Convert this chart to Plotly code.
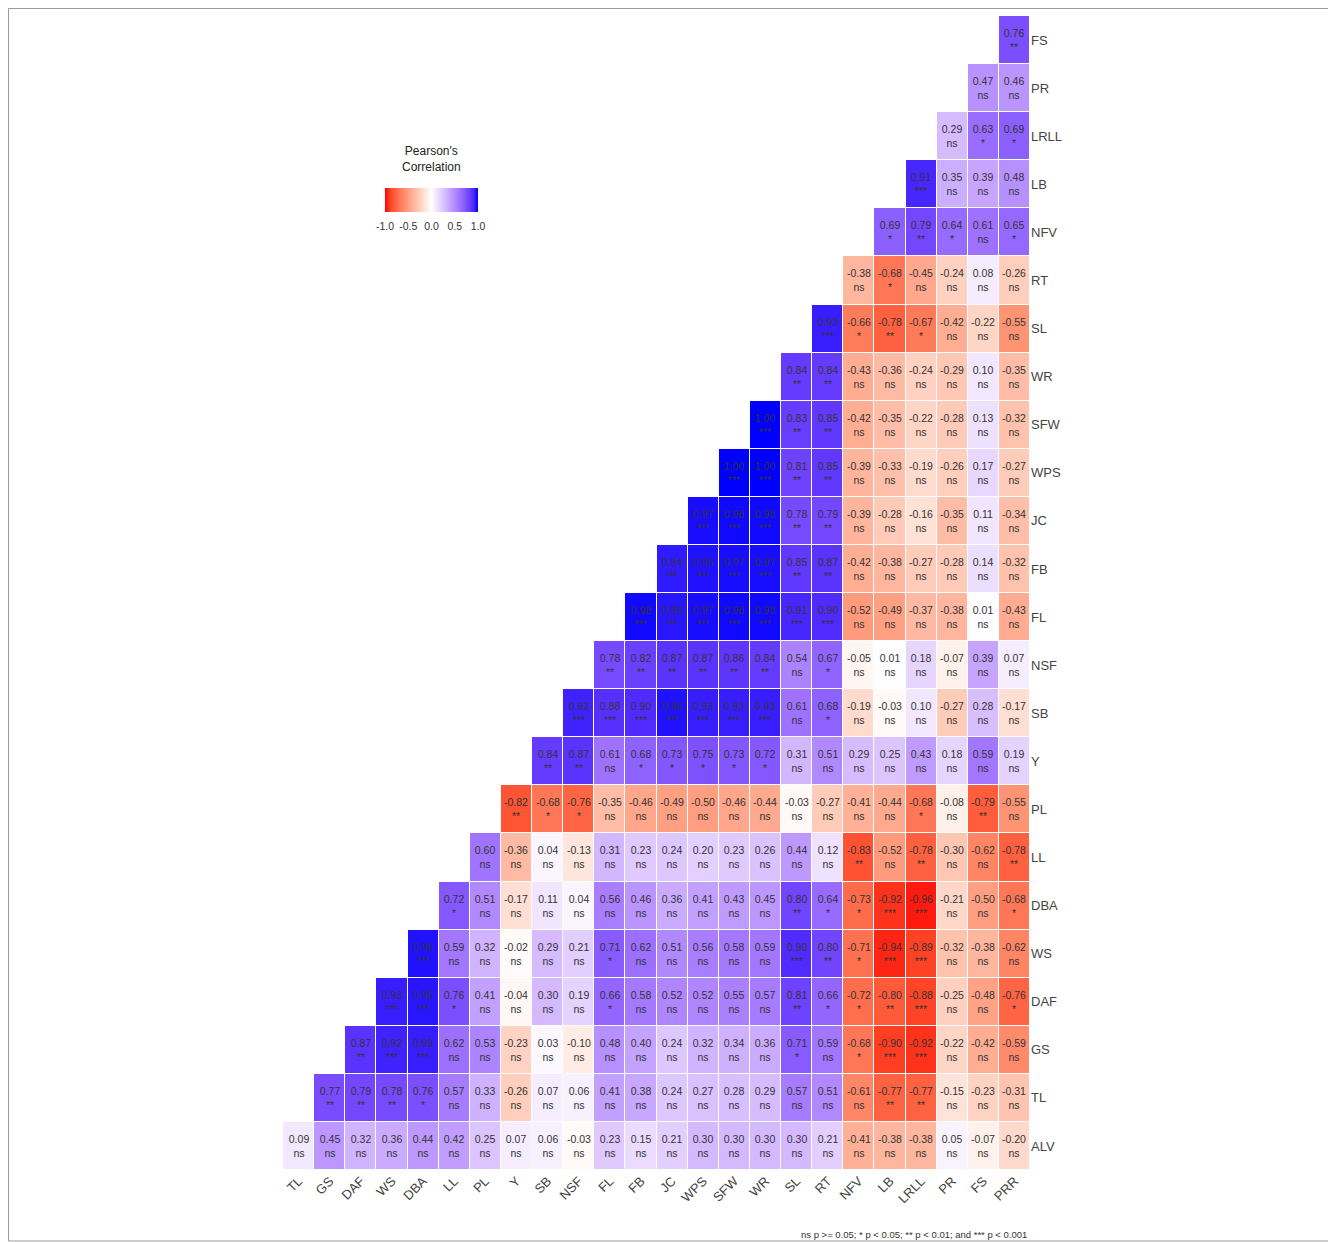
import plotly.graph_objects as go

# ---------------- data ----------------
x_vars = ["TL", "GS", "DAF", "WS", "DBA", "LL", "PL", "Y", "SB", "NSF", "FL", "FB",
          "JC", "WPS", "SFW", "WR", "SL", "RT", "NFV", "LB", "LRLL", "PR", "FS", "PRR"]
# rows listed bottom -> top
y_vars = ["ALV", "TL", "GS", "DAF", "WS", "DBA", "LL", "PL", "Y", "SB", "NSF", "FL",
          "FB", "JC", "WPS", "SFW", "WR", "SL", "RT", "NFV", "LB", "LRLL", "PR", "FS"]

ALV_r = [0.09, 0.45, 0.32, 0.36, 0.44, 0.42, 0.25, 0.07, 0.06, -0.03, 0.23, 0.15, 0.21, 0.30, 0.30, 0.30, 0.30, 0.21, -0.41, -0.38, -0.38, 0.05, -0.07, -0.20]
ALV_p = ["ns"] * 24
TL_r = [0.77, 0.79, 0.78, 0.76, 0.57, 0.33, -0.26, 0.07, 0.06, 0.41, 0.38, 0.24, 0.27, 0.28, 0.29, 0.57, 0.51, -0.61, -0.77, -0.77, -0.15, -0.23, -0.31]
TL_p = ["**", "**", "**", "*", "ns", "ns", "ns", "ns", "ns", "ns", "ns", "ns", "ns", "ns", "ns", "ns", "ns", "ns", "**", "**", "ns", "ns", "ns"]
GS_r = [0.87, 0.92, 0.93, 0.62, 0.53, -0.23, 0.03, -0.10, 0.48, 0.40, 0.24, 0.32, 0.34, 0.36, 0.71, 0.59, -0.68, -0.90, -0.92, -0.22, -0.42, -0.59]
GS_p = ["**", "***", "***", "ns", "ns", "ns", "ns", "ns", "ns", "ns", "ns", "ns", "ns", "ns", "*", "ns", "*", "***", "***", "ns", "ns", "ns"]
DAF_r = [0.93, 0.95, 0.76, 0.41, -0.04, 0.30, 0.19, 0.66, 0.58, 0.52, 0.52, 0.55, 0.57, 0.81, 0.66, -0.72, -0.80, -0.88, -0.25, -0.48, -0.76]
DAF_p = ["***", "***", "*", "ns", "ns", "ns", "ns", "*", "ns", "ns", "ns", "ns", "ns", "**", "*", "*", "**", "***", "ns", "ns", "*"]
WS_r = [0.96, 0.59, 0.32, -0.02, 0.29, 0.21, 0.71, 0.62, 0.51, 0.56, 0.58, 0.59, 0.90, 0.80, -0.71, -0.94, -0.89, -0.32, -0.38, -0.62]
WS_p = ["***", "ns", "ns", "ns", "ns", "ns", "*", "ns", "ns", "ns", "ns", "ns", "***", "**", "*", "***", "***", "ns", "ns", "ns"]
DBA_r = [0.72, 0.51, -0.17, 0.11, 0.04, 0.56, 0.46, 0.36, 0.41, 0.43, 0.45, 0.80, 0.64, -0.73, -0.92, -0.96, -0.21, -0.50, -0.68]
DBA_p = ["*", "ns", "ns", "ns", "ns", "ns", "ns", "ns", "ns", "ns", "ns", "**", "*", "*", "***", "***", "ns", "ns", "*"]
LL_r = [0.60, -0.36, 0.04, -0.13, 0.31, 0.23, 0.24, 0.20, 0.23, 0.26, 0.44, 0.12, -0.83, -0.52, -0.78, -0.30, -0.62, -0.78]
LL_p = ["ns", "ns", "ns", "ns", "ns", "ns", "ns", "ns", "ns", "ns", "ns", "ns", "**", "ns", "**", "ns", "ns", "**"]
PL_r = [-0.82, -0.68, -0.76, -0.35, -0.46, -0.49, -0.50, -0.46, -0.44, -0.03, -0.27, -0.41, -0.44, -0.68, -0.08, -0.79, -0.55]
PL_p = ["**", "*", "*", "ns", "ns", "ns", "ns", "ns", "ns", "ns", "ns", "ns", "ns", "*", "ns", "**", "ns"]
Y_r = [0.84, 0.87, 0.61, 0.68, 0.73, 0.75, 0.73, 0.72, 0.31, 0.51, 0.29, 0.25, 0.43, 0.18, 0.59, 0.19]
Y_p = ["**", "**", "ns", "*", "*", "*", "*", "*", "ns", "ns", "ns", "ns", "ns", "ns", "ns", "ns"]
SB_r = [0.92, 0.88, 0.90, 0.96, 0.93, 0.93, 0.93, 0.61, 0.68, -0.19, -0.03, 0.10, -0.27, 0.28, -0.17]
SB_p = ["***", "***", "***", "***", "***", "***", "***", "ns", "*", "ns", "ns", "ns", "ns", "ns", "ns"]
NSF_r = [0.78, 0.82, 0.87, 0.87, 0.86, 0.84, 0.54, 0.67, -0.05, 0.01, 0.18, -0.07, 0.39, 0.07]
NSF_p = ["**", "**", "**", "**", "**", "**", "ns", "*", "ns", "ns", "ns", "ns", "ns", "ns"]
FL_r = [0.98, 0.95, 0.97, 0.98, 0.98, 0.91, 0.90, -0.52, -0.49, -0.37, -0.38, 0.01, -0.43]
FL_p = ["***", "***", "***", "***", "***", "***", "***", "ns", "ns", "ns", "ns", "ns", "ns"]
FB_r = [0.94, 0.96, 0.97, 0.97, 0.85, 0.87, -0.42, -0.38, -0.27, -0.28, 0.14, -0.32]
FB_p = ["***", "***", "***", "***", "**", "**", "ns", "ns", "ns", "ns", "ns", "ns"]
JC_r = [0.97, 0.98, 0.98, 0.78, 0.79, -0.39, -0.28, -0.16, -0.35, 0.11, -0.34]
JC_p = ["***", "***", "***", "**", "**", "ns", "ns", "ns", "ns", "ns", "ns"]
WPS_r = [1.00, 1.00, 0.81, 0.85, -0.39, -0.33, -0.19, -0.26, 0.17, -0.27]
WPS_p = ["***", "***", "**", "**", "ns", "ns", "ns", "ns", "ns", "ns"]
SFW_r = [1.00, 0.83, 0.85, -0.42, -0.35, -0.22, -0.28, 0.13, -0.32]
SFW_p = ["***", "**", "**", "ns", "ns", "ns", "ns", "ns", "ns"]
WR_r = [0.84, 0.84, -0.43, -0.36, -0.24, -0.29, 0.10, -0.35]
WR_p = ["**", "**", "ns", "ns", "ns", "ns", "ns", "ns"]
SL_r = [0.93, -0.66, -0.78, -0.67, -0.42, -0.22, -0.55]
SL_p = ["***", "*", "**", "*", "ns", "ns", "ns"]
RT_r = [-0.38, -0.68, -0.45, -0.24, 0.08, -0.26]
RT_p = ["ns", "*", "ns", "ns", "ns", "ns"]
NFV_r = [0.69, 0.79, 0.64, 0.61, 0.65]
NFV_p = ["*", "**", "*", "ns", "*"]
LB_r = [0.91, 0.35, 0.39, 0.48]
LB_p = ["***", "ns", "ns", "ns"]
LRLL_r = [0.29, 0.63, 0.69]
LRLL_p = ["ns", "*", "*"]
PR_r = [0.47, 0.46]
PR_p = ["ns", "ns"]
FS_r = [0.76]
FS_p = ["**"]

legend_ticks = [-1.0, -0.5, 0.0, 0.5, 1.0]
legend_ticktext = ["-1.0", "-0.5", "0.0", "0.5", "1.0"]

row_r = [ALV_r, TL_r, GS_r, DAF_r, WS_r, DBA_r, LL_r, PL_r, Y_r, SB_r, NSF_r, FL_r,
         FB_r, JC_r, WPS_r, SFW_r, WR_r, SL_r, RT_r, NFV_r, LB_r, LRLL_r, PR_r, FS_r]
row_p = [ALV_p, TL_p, GS_p, DAF_p, WS_p, DBA_p, LL_p, PL_p, Y_p, SB_p, NSF_p, FL_p,
         FB_p, JC_p, WPS_p, SFW_p, WR_p, SL_p, RT_p, NFV_p, LB_p, LRLL_p, PR_p, FS_p]

ncol = len(x_vars)
Z, T = [], []
for r, p in zip(row_r, row_p):
    pad = ncol - len(r)
    Z.append([None] * pad + list(r))
    T.append([""] * pad + ["%.2f<br>%s" % (v, s) for v, s in zip(r, p)])

# ---------------- colour scale (Lab interpolation, like ggplot gradient2) ----------------
def _lin(c):
    c = c / 255.0
    return c / 12.92 if c <= 0.04045 else ((c + 0.055) / 1.055) ** 2.4

def _gam(c):
    c = 12.92 * c if c <= 0.0031308 else 1.055 * c ** (1 / 2.4) - 0.055
    return max(0, min(255, round(c * 255)))

def rgb2lab(rgb):
    r, g, b = [_lin(v) for v in rgb]
    X = (0.4124 * r + 0.3576 * g + 0.1805 * b) / 0.95047
    Yv = (0.2126 * r + 0.7152 * g + 0.0722 * b) / 1.0
    Zc = (0.0193 * r + 0.1192 * g + 0.9505 * b) / 1.08883
    f = lambda t: t ** (1 / 3) if t > 0.008856 else 7.787 * t + 16 / 116
    fx, fy, fz = f(X), f(Yv), f(Zc)
    return (116 * fy - 16, 500 * (fx - fy), 200 * (fy - fz))

def lab2rgb(lab):
    L, a, b = lab
    fy = (L + 16) / 116
    fx = fy + a / 500
    fz = fy - b / 200
    fi = lambda t: t ** 3 if t ** 3 > 0.008856 else (t - 16 / 116) / 7.787
    X, Yv, Zc = fi(fx) * 0.95047, fi(fy), fi(fz) * 1.08883
    r = 3.2406 * X - 1.5372 * Yv - 0.4986 * Zc
    g = -0.9689 * X + 1.8758 * Yv + 0.0415 * Zc
    bb = 0.0557 * X - 0.2040 * Yv + 1.0570 * Zc
    return "rgb(%d,%d,%d)" % (_gam(max(r, 0)), _gam(max(g, 0)), _gam(max(bb, 0)))

low, mid, high = rgb2lab((255, 0, 0)), rgb2lab((255, 255, 255)), rgb2lab((0, 0, 255))
cscale = []
N = 20
for i in range(N + 1):
    t = i / N
    if t <= 0.5:
        u = t / 0.5
        lab = tuple(low[k] + (mid[k] - low[k]) * u for k in range(3))
    else:
        u = (t - 0.5) / 0.5
        lab = tuple(mid[k] + (high[k] - mid[k]) * u for k in range(3))
    cscale.append([t, lab2rgb(lab)])

FONT = "Liberation Sans, Arial, sans-serif"

fig = go.Figure(go.Heatmap(
    z=Z, x=x_vars, y=y_vars, text=T, texttemplate="%{text}",
    textfont=dict(family=FONT, size=10.5, color="#333333"),
    colorscale=cscale, zmin=-1, zmax=1, xgap=1, ygap=1, hoverongaps=False,
    colorbar=dict(
        orientation="h", x=0.1988, xanchor="center", y=0.851, yanchor="top",
        ypad=0, xpad=0,
        len=93, lenmode="pixels", thickness=24, outlinewidth=0,
        tickvals=legend_ticks, ticktext=legend_ticktext, tickangle=0,
        ticks="outside", ticklen=6, tickcolor="rgba(255,255,255,0)",
        tickfont=dict(family=FONT, size=10.5, color="#333333"),
    ),
))

fig.update_layout(
    width=1336, height=1242,
    margin=dict(l=275, r=314, t=8, b=80),
    paper_bgcolor="white", plot_bgcolor="white",
    font=dict(family=FONT, color="#333333"),
    xaxis=dict(tickangle=-45, tickfont=dict(size=13, color="#444444"), showgrid=False,
               zeroline=False, ticks="", showline=False),
    yaxis=dict(side="right", tickfont=dict(size=13, color="#444444"), showgrid=False,
               zeroline=False, ticks="", showline=False),
    annotations=[
        dict(text="ns p >= 0.05; * p < 0.05; ** p < 0.01; and *** p < 0.001",
             xref="paper", yref="paper", x=0.998, y=-0.0555, xanchor="right",
             yanchor="middle", showarrow=False,
             font=dict(family=FONT, size=9.5, color="#333333")),
        dict(text="Pearson's<br>Correlation", xref="paper", yref="paper",
             x=0.1988, y=0.876, xanchor="center", yanchor="middle", showarrow=False,
             font=dict(family=FONT, size=12, color="#222222")),
    ],
    shapes=[dict(type="rect", xref="paper", yref="paper",
                 x0=-0.3675, x1=1.4016, y0=-0.0615, y1=1.0065,
                 line=dict(color="#999999", width=1), fillcolor="rgba(0,0,0,0)")],
)

fig.write_html("out.html")
